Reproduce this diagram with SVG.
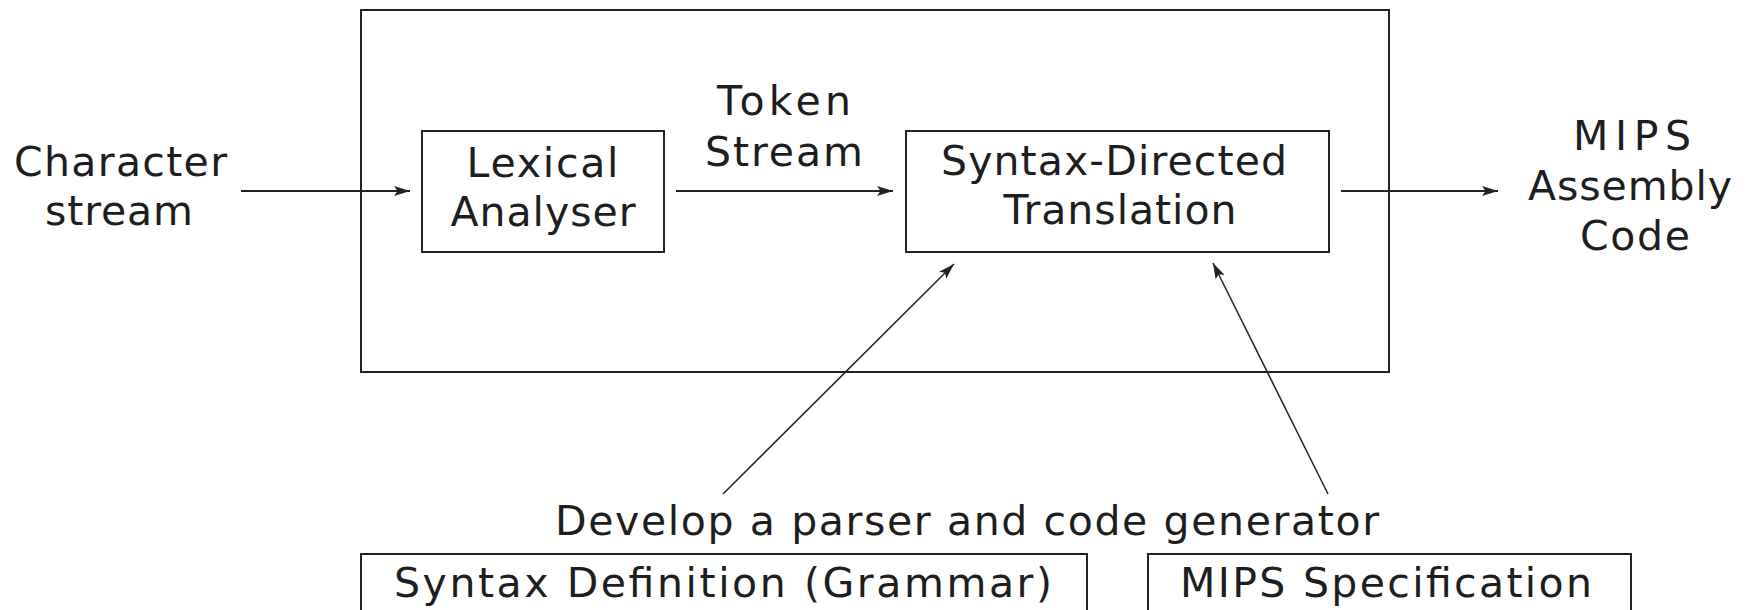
<svg xmlns="http://www.w3.org/2000/svg" width="1752" height="610" viewBox="0 0 1752 610">
  <style>
    text { font-family: "DejaVu Sans", "Liberation Sans", sans-serif; font-size: 41px; fill: #1e1e1e; text-anchor: middle; }
    .box { fill: none; stroke: #222; stroke-width: 2; }
    .conn { fill: none; stroke: #222; stroke-width: 1.8; }
    .diag { fill: none; stroke: #222; stroke-width: 1.5; }
  </style>
  <defs>
    <marker id="arrow" markerUnits="userSpaceOnUse" markerWidth="18" markerHeight="12" refX="16" refY="5" orient="auto">
      <path d="M0,0 L16,5 L0,10 L3.5,5 z" fill="#222"/>
    </marker>
  </defs>

  <g id="outer">
    <rect class="box" x="361" y="10" width="1028" height="362"/>
  </g>

  <g id="lexical">
    <rect class="box" x="422" y="131" width="242" height="121"/>
    <text x="542.5" y="177" textLength="152" lengthAdjust="spacing">Lexical</text>
    <text x="543" y="226" textLength="185" lengthAdjust="spacing">Analyser</text>
  </g>

  <g id="sdt">
    <rect class="box" x="906" y="131" width="423" height="121"/>
    <text x="1114" y="175" textLength="346" lengthAdjust="spacing">Syntax-Directed</text>
    <text x="1120" y="224" textLength="233" lengthAdjust="spacing">Translation</text>
  </g>

  <g id="input">
    <text x="120.5" y="176" textLength="213" lengthAdjust="spacing">Character</text>
    <text x="119" y="225" textLength="148" lengthAdjust="spacing">stream</text>
  </g>

  <g id="token-label">
    <text x="784" y="115" textLength="134" lengthAdjust="spacing">Token</text>
    <text x="784" y="166" textLength="158" lengthAdjust="spacing">Stream</text>
  </g>

  <g id="output">
    <text x="1632" y="150" textLength="118" lengthAdjust="spacing">MIPS</text>
    <text x="1630" y="200" textLength="204" lengthAdjust="spacing">Assembly</text>
    <text x="1635" y="250" textLength="110" lengthAdjust="spacing">Code</text>
  </g>

  <g id="develop">
    <text x="967" y="535" textLength="824" lengthAdjust="spacing">Develop a parser and code generator</text>
  </g>

  <g id="grammar">
    <rect class="box" x="361" y="554" width="726" height="70"/>
    <text x="723" y="597" textLength="658" lengthAdjust="spacing">Syntax Definition (Grammar)</text>
  </g>

  <g id="mips-spec">
    <rect class="box" x="1148" y="554" width="483" height="70"/>
    <text x="1386" y="597" textLength="412" lengthAdjust="spacing">MIPS Specification</text>
  </g>

  <g id="connectors">
    <line class="conn" x1="241" y1="191" x2="410" y2="191" marker-end="url(#arrow)"/>
    <line class="conn" x1="676" y1="191" x2="893" y2="191" marker-end="url(#arrow)"/>
    <line class="conn" x1="1341" y1="191" x2="1498" y2="191" marker-end="url(#arrow)"/>
    <line class="diag" x1="723" y1="494" x2="954" y2="264" marker-end="url(#arrow)"/>
    <line class="diag" x1="1328" y1="494" x2="1213" y2="263" marker-end="url(#arrow)"/>
  </g>
</svg>
